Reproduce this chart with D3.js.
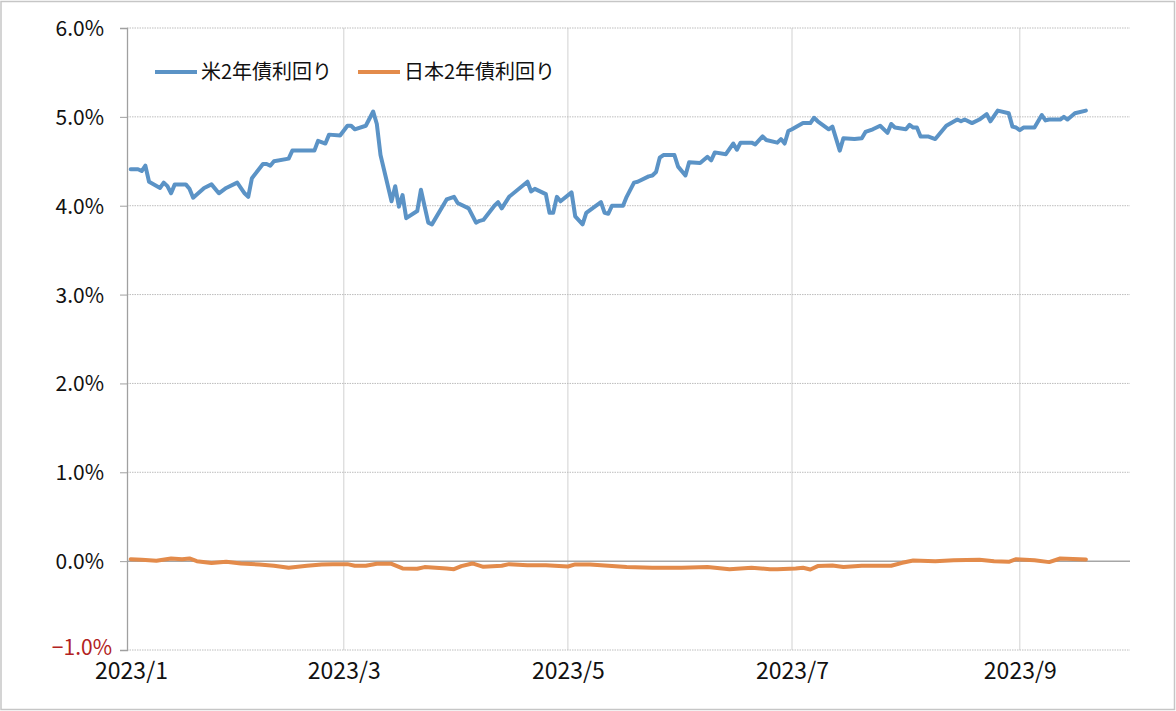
<!DOCTYPE html>
<html><head><meta charset="utf-8">
<script src="https://cdn.jsdelivr.net/npm/d3@7"></script>
<style>
html,body{margin:0;padding:0;background:#fff;}
svg{display:block;}
text{font-family:"Noto Sans CJK JP","Noto Sans",sans-serif;}
</style></head>
<body>
<svg id="chart" width="1176" height="711"></svg>
<script>
// ---- Data ----
const seriesNames = ["米2年債利回り", "日本2年債利回り"];
const usDates = ["2023-01-02","2023-01-04","2023-01-05","2023-01-06","2023-01-07","2023-01-10","2023-01-11","2023-01-12","2023-01-13","2023-01-14","2023-01-17","2023-01-18","2023-01-19","2023-01-22","2023-01-24","2023-01-26","2023-01-28","2023-01-31","2023-02-02","2023-02-03","2023-02-04","2023-02-07","2023-02-08","2023-02-09","2023-02-10","2023-02-14","2023-02-15","2023-02-21","2023-02-22","2023-02-24","2023-02-25","2023-02-28","2023-03-02","2023-03-03","2023-03-04","2023-03-07","2023-03-09","2023-03-10","2023-03-11","2023-03-14","2023-03-15","2023-03-16","2023-03-17","2023-03-18","2023-03-21","2023-03-22","2023-03-24","2023-03-25","2023-03-29","2023-03-31","2023-04-01","2023-04-04","2023-04-06","2023-04-07","2023-04-08","2023-04-11","2023-04-12","2023-04-13","2023-04-15","2023-04-20","2023-04-21","2023-04-22","2023-04-25","2023-04-26","2023-04-27","2023-04-28","2023-04-29","2023-05-02","2023-05-03","2023-05-05","2023-05-06","2023-05-10","2023-05-11","2023-05-12","2023-05-13","2023-05-16","2023-05-17","2023-05-19","2023-05-20","2023-05-23","2023-05-24","2023-05-25","2023-05-26","2023-05-27","2023-05-30","2023-05-31","2023-06-02","2023-06-03","2023-06-06","2023-06-08","2023-06-09","2023-06-10","2023-06-13","2023-06-15","2023-06-16","2023-06-17","2023-06-20","2023-06-21","2023-06-23","2023-06-24","2023-06-27","2023-06-28","2023-06-29","2023-06-30","2023-07-01","2023-07-04","2023-07-06","2023-07-07","2023-07-08","2023-07-11","2023-07-12","2023-07-14","2023-07-15","2023-07-18","2023-07-20","2023-07-21","2023-07-23","2023-07-25","2023-07-27","2023-07-28","2023-07-29","2023-08-01","2023-08-02","2023-08-03","2023-08-04","2023-08-05","2023-08-07","2023-08-09","2023-08-12","2023-08-15","2023-08-16","2023-08-17","2023-08-19","2023-08-21","2023-08-23","2023-08-24","2023-08-26","2023-08-29","2023-08-30","2023-08-31","2023-09-01","2023-09-02","2023-09-05","2023-09-07","2023-09-08","2023-09-09","2023-09-12","2023-09-13","2023-09-14","2023-09-16","2023-09-19"];
const usYield = [4.41,4.41,4.39,4.45,4.27,4.20,4.26,4.22,4.14,4.24,4.24,4.19,4.09,4.20,4.24,4.14,4.20,4.26,4.14,4.10,4.31,4.47,4.47,4.45,4.50,4.53,4.62,4.62,4.73,4.70,4.80,4.79,4.90,4.90,4.86,4.90,5.06,4.92,4.57,4.05,4.22,3.99,4.12,3.86,3.94,4.18,3.81,3.79,4.07,4.10,4.03,3.97,3.81,3.83,3.84,4.00,4.04,3.97,4.10,4.27,4.16,4.19,4.13,3.92,3.92,4.10,4.05,4.15,3.88,3.79,3.92,4.04,3.92,3.91,4.00,4.00,4.10,4.26,4.27,4.33,4.34,4.38,4.54,4.57,4.57,4.44,4.34,4.49,4.48,4.55,4.51,4.60,4.58,4.70,4.63,4.71,4.71,4.69,4.78,4.74,4.71,4.75,4.70,4.84,4.86,4.93,4.93,4.99,4.95,4.86,4.89,4.62,4.76,4.75,4.76,4.83,4.86,4.90,4.82,4.92,4.88,4.86,4.91,4.88,4.88,4.78,4.78,4.75,4.90,4.97,4.95,4.97,4.93,4.97,5.03,4.95,5.07,5.04,4.89,4.88,4.85,4.88,4.88,5.02,4.96,4.97,4.97,5.00,4.97,5.04,5.07];
const jpDates = ["2023-01-02","2023-01-05","2023-01-09","2023-01-13","2023-01-16","2023-01-18","2023-01-20","2023-01-24","2023-01-28","2023-02-01","2023-02-06","2023-02-10","2023-02-14","2023-02-19","2023-02-23","2023-02-26","2023-03-02","2023-03-04","2023-03-07","2023-03-10","2023-03-14","2023-03-17","2023-03-21","2023-03-23","2023-03-26","2023-03-29","2023-03-31","2023-04-02","2023-04-05","2023-04-08","2023-04-13","2023-04-15","2023-04-20","2023-04-25","2023-05-01","2023-05-03","2023-05-07","2023-05-12","2023-05-17","2023-05-24","2023-06-01","2023-06-08","2023-06-14","2023-06-20","2023-06-25","2023-06-27","2023-07-02","2023-07-04","2023-07-06","2023-07-08","2023-07-12","2023-07-15","2023-07-20","2023-07-28","2023-07-31","2023-08-03","2023-08-09","2023-08-14","2023-08-21","2023-08-25","2023-08-29","2023-08-31","2023-09-05","2023-09-09","2023-09-12","2023-09-19"];
const jpYield = [0.022,0.015,0.004,0.030,0.022,0.030,0.000,-0.022,-0.007,-0.026,-0.037,-0.052,-0.075,-0.052,-0.037,-0.034,-0.034,-0.052,-0.052,-0.030,-0.030,-0.082,-0.086,-0.067,-0.075,-0.082,-0.090,-0.056,-0.026,-0.064,-0.052,-0.034,-0.045,-0.045,-0.060,-0.037,-0.037,-0.052,-0.067,-0.075,-0.075,-0.067,-0.090,-0.075,-0.090,-0.090,-0.082,-0.075,-0.094,-0.056,-0.049,-0.067,-0.052,-0.052,-0.019,0.007,0.000,0.011,0.015,0.000,-0.007,0.022,0.011,-0.011,0.030,0.019];
const yTicks = [-1,0,1,2,3,4,5,6];
const xTickDates = ["2023-01-01","2023-03-01","2023-05-01","2023-07-01","2023-09-01"];
const xTickLabels = ["2023/1","2023/3","2023/5","2023/7","2023/9"];

// ---- Layout ----
const svg = d3.select("#chart");
const W = 1176, H = 711;
const m = {left:127, right:1130, top:28, bottom:650};
const parse = d3.timeParse("%Y-%m-%d");

const x = d3.scaleTime().domain([parse("2023-01-01"), parse("2023-10-01")]).range([m.left, m.right]);
const y = d3.scaleLinear().domain([-1, 6]).range([m.bottom, m.top]);

svg.append("rect").attr("x",1).attr("y",1.5).attr("width",W-2.5).attr("height",H-3)
  .attr("fill","#fff").attr("stroke","#c6c6c6").attr("stroke-width",1.5);

// vertical gridlines
svg.append("g").selectAll("line").data(xTickDates.slice(1)).join("line")
  .attr("x1",d=>x(parse(d))).attr("x2",d=>x(parse(d)))
  .attr("y1",m.top).attr("y2",m.bottom)
  .attr("stroke","#d9d9d9").attr("stroke-width",1.2);

// horizontal gridlines
svg.append("g").selectAll("line").data(yTicks.filter(v=>v!==0)).join("line")
  .attr("x1",m.left).attr("x2",m.right)
  .attr("y1",d=>y(d)).attr("y2",d=>y(d))
  .attr("stroke","#bdbdbd").attr("stroke-width",1).attr("stroke-dasharray","1.5,1");

// y axis
const yAxis = d3.axisLeft(y).tickValues(yTicks).tickSize(7).tickFormat(d=>d3.format(".1f")(d)+"%");
const ya = svg.append("g").attr("transform",`translate(${m.left},0)`).call(yAxis);
ya.select(".domain").attr("stroke","#a0a0a0").attr("stroke-width",1.3);
ya.selectAll(".tick line").attr("stroke","#a0a0a0");
ya.selectAll(".tick text").attr("font-family","'Noto Sans CJK JP',sans-serif").attr("font-size",21)
  .attr("fill","#111").attr("x",-23).attr("dy","0.36em")
  .filter(d=>d<0).attr("fill","#b22222").attr("x",-15).attr("dy","0.2em");

// zero line
svg.append("line").attr("x1",m.left).attr("x2",m.right).attr("y1",y(0)).attr("y2",y(0))
  .attr("stroke","#a6a6a6").attr("stroke-width",1.5);

// x axis labels
const xAxis = d3.axisBottom(x).tickValues(xTickDates.map(parse)).tickSize(0)
  .tickFormat((d,i)=>xTickLabels[i]);
const xa = svg.append("g").attr("transform",`translate(0,${m.bottom})`).call(xAxis);
xa.select(".domain").remove();
xa.selectAll(".tick text").attr("font-family","'Noto Sans CJK JP',sans-serif").attr("font-size",23)
  .attr("fill","#111").attr("y",12).attr("dy","0.75em");
xa.selectAll(".tick").filter((d,i)=>i===0).select("text").attr("dx",4);

// lines
const line = d3.line().x(d=>x(d.date)).y(d=>y(d.v));
const usData = usDates.map((d,i)=>({date:parse(d), v:usYield[i]}));
const jpData = jpDates.map((d,i)=>({date:parse(d), v:jpYield[i]}));
const colors = ["#5b93c6","#e38b4b"];

svg.append("path").datum(jpData).attr("d",line).attr("fill","none")
  .attr("stroke",colors[1]).attr("stroke-width",4).attr("stroke-linejoin","round").attr("stroke-linecap","round");
svg.append("path").datum(usData).attr("d",line).attr("fill","none")
  .attr("stroke",colors[0]).attr("stroke-width",4).attr("stroke-linejoin","round").attr("stroke-linecap","round");

// legend
const legX = [155, 358];
seriesNames.forEach((name,i)=>{
  const g = svg.append("g").attr("transform",`translate(${legX[i]},72)`);
  g.append("line").attr("x1",0).attr("x2",42).attr("y1",0).attr("y2",0)
    .attr("stroke",colors[i]).attr("stroke-width",4);
  g.append("text").attr("x",46).attr("y",0).attr("dy","0.35em")
    .attr("font-size",20).attr("fill","#111").text(name);
});
</script>
</body></html>
